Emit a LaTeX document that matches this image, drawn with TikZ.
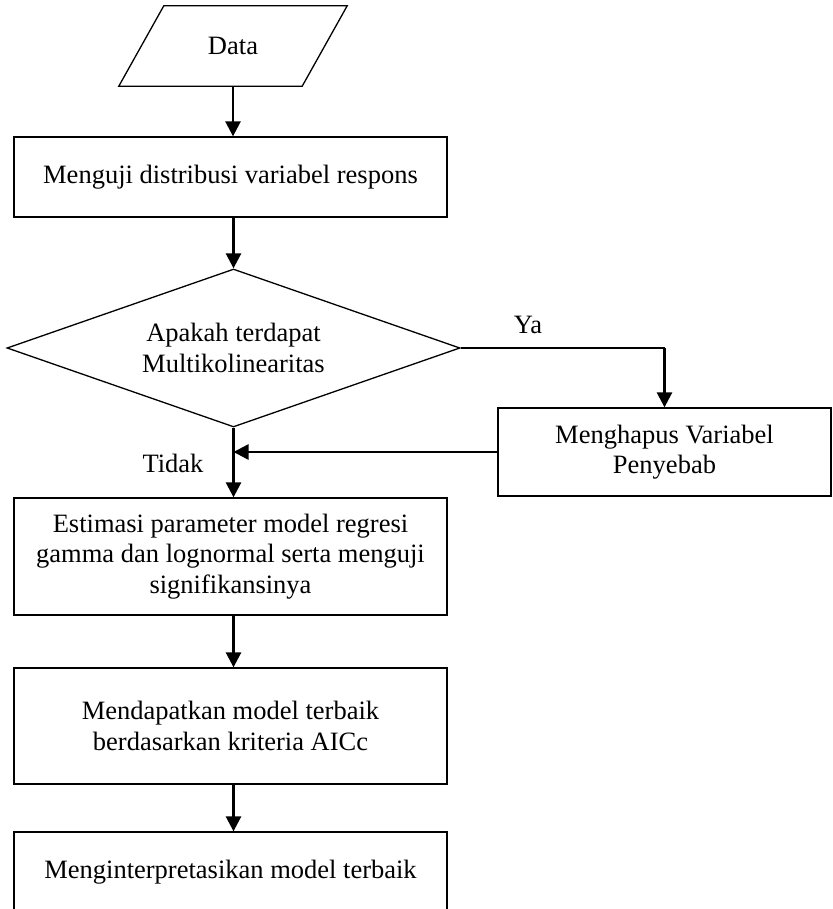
\documentclass[tikz,border=0pt]{standalone}
\usepackage{fontspec}
\setmainfont{Liberation Serif}
\usetikzlibrary{shapes.geometric,arrows.meta}

\begin{document}
\begin{tikzpicture}[x=1pt,y=-1pt,
  every node/.style={font=\fontsize{26.5}{30.5}\selectfont, inner sep=0pt},
  proses/.style={draw, line width=1.3pt, rectangle, minimum width=433pt, align=center},
  alur/.style={line width=2.6pt, -{Triangle[length=15pt,width=15pt]}},
  garis/.style={line width=1.3pt}]

\useasboundingbox (0,0) rectangle (832,909);

  \node[minimum width=183pt, minimum height=80pt] (data) at (233,46) {Data};
  \draw[garis] ([xshift=-22.5pt]data.south west) -- ([xshift=-22.5pt]data.south east)
    -- ([xshift=22.5pt]data.north east) -- ([xshift=22.5pt]data.north west) -- cycle;
  \node[proses, minimum height=80pt] (uji) at (230.5,177) {Menguji distribusi variabel respons};
  \node[draw, line width=1.3pt, diamond, aspect=2.87, minimum width=453pt, minimum height=158pt, align=center]
        (cek) at (233.5,348) {Apakah terdapat\\Multikolinearitas};
  \node[proses, minimum width=333pt, minimum height=88pt] (hapus) at (664.5,452)
        {Menghapus Variabel\\Penyebab};
  \node[proses, minimum height=117pt] (est) at (230.5,556.5)
        {Estimasi parameter model regresi\\gamma dan lognormal serta menguji\\signifikansinya};
  \node[proses, minimum height=116pt] (dapat) at (230.5,726)
        {Mendapatkan model terbaik\\berdasarkan kriteria AICc};
  \node[proses, minimum height=80pt] (interp) at (230.5,872) {Menginterpretasikan model terbaik};

  \node (ya) at (528,325) {Ya};
  \node (tidak) at (173,463) {Tidak};

  \draw[alur] (data.south) -- (data.south |- uji.north);
  \draw[alur] (cek.north |- uji.south) -- (cek.north);
  \draw[garis] (cek.east) -- (cek.east -| hapus.north);
  \draw[alur] (cek.east -| hapus.north) -- (hapus.north);
  \draw[alur] (hapus.west) -- (hapus.west -| cek.south);
  \draw[alur] (cek.south) -- (cek.south |- est.north);
  \draw[alur] (cek.south |- est.south) -- (cek.south |- dapat.north);
  \draw[alur] (cek.south |- dapat.south) -- (cek.south |- interp.north);

\end{tikzpicture}
\end{document}
